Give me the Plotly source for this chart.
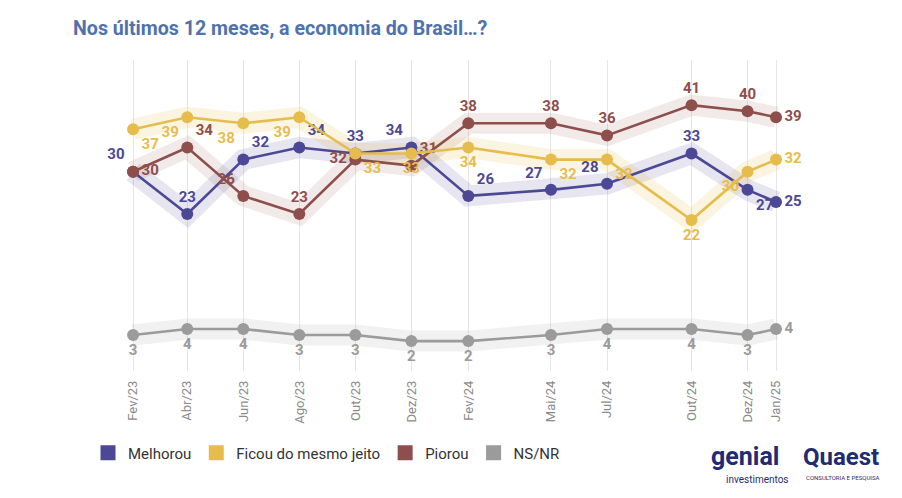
import plotly.graph_objects as go

# ---- data ----
months = ["2023-02-01", "2023-04-01", "2023-06-01", "2023-08-01", "2023-10-01", "2023-12-01",
          "2024-02-01", "2024-05-01", "2024-07-01", "2024-10-01", "2024-12-01", "2025-01-01"]
tick_labels = ["Fev/23", "Abr/23", "Jun/23", "Ago/23", "Out/23", "Dez/23",
               "Fev/24", "Mai/24", "Jul/24", "Out/24", "Dez/24", "Jan/25"]
melhorou = [30, 23, 32, 34, 33, 34, 26, 27, 28, 33, 27, 25]
ficou = [37, 39, 38, 39, 33, 33, 34, 32, 32, 22, 30, 32]
piorou = [30, 34, 26, 23, 32, 31, 38, 38, 36, 41, 40, 39]
nsnr = [3, 4, 4, 3, 3, 2, 2, 3, 4, 4, 3, 4]

# label placement per point
pos_melhorou = ["top left", "top center", "top right", "top right", "top center", "top left",
                "top right", "top left", "top left", "top center", "bottom right", "middle right"]
pos_ficou = ["bottom right", "bottom left", "bottom left", "bottom left", "bottom right", "bottom center",
             "bottom center", "bottom right", "bottom right", "bottom center", "bottom left", "middle right"]
pos_piorou = ["middle right", "top right", "top left", "top center", "middle left", "top right",
              "top center", "top center", "top center", "top center", "top center", "middle right"]
pos_nsnr = ["bottom center"] * 11 + ["middle right"]

BLUE = "#4c4895"
YELLOW = "#e6bd4c"
RED = "#8e4f4c"
GRAY = "#9b9b9b"

series = [
    ("Melhorou", melhorou, BLUE, "rgba(76,72,149,0.14)", pos_melhorou),
    ("Piorou", piorou, RED, "rgba(142,79,76,0.12)", pos_piorou),
    ("Ficou do mesmo jeito", ficou, YELLOW, "rgba(230,189,76,0.17)", pos_ficou),
    ("NS/NR", nsnr, GRAY, "rgba(155,155,155,0.14)", pos_nsnr),
]
legend_order = ["Melhorou", "Ficou do mesmo jeito", "Piorou", "NS/NR"]

fig = go.Figure()

# halos
for name, vals, col, halo, pos in series:
    fig.add_trace(go.Scatter(x=months, y=vals, mode="lines",
                             line=dict(color=halo, width=21),
                             hoverinfo="skip", showlegend=False))

# lines, markers, labels
for name, vals, col, halo, pos in series:
    fig.add_trace(go.Scatter(
        x=months, y=vals, mode="lines+markers+text", name=name,
        line=dict(color=col, width=2.6),
        marker=dict(color=col, size=12),
        text=[str(v) for v in vals], textposition=pos,
        textfont=dict(family="Roboto", size=15, color=col, weight="bold"),
        cliponaxis=False, showlegend=False))

# legend entries (square symbols)
colors = {s[0]: s[2] for s in series}
for name in legend_order:
    fig.add_trace(go.Scatter(x=[None], y=[None], mode="markers", name=name,
                             marker=dict(symbol="square", size=15, color=colors[name])))

# page offset (browser body margin) compensated in margins
L, T, W, H = 92, 52, 710, 311
fig.update_xaxes(
    type="date",
    range=["2022-12-27", "2025-02-07"],
    tickmode="array", tickvals=months, ticktext=tick_labels,
    tickangle=-90, tickfont=dict(family="Roboto", size=13, color="#8a8a8a"),
    ticklabelstandoff=6,
    showgrid=True, gridcolor="#e6e6e6", gridwidth=1,
    showline=False, zeroline=False, ticks="",
)
fig.update_yaxes(range=[-2.94, 48.46], visible=False, showgrid=False, zeroline=False)


def px(x):
    return (x - 8 - L) / W


def py(y):
    return 1 - (y - 8 - T) / H


fig.update_layout(
    width=902, height=498,
    margin=dict(l=L, r=902 - L - W, t=T, b=498 - T - H),
    paper_bgcolor="white", plot_bgcolor="white",
    title=dict(text="<b>Nos últimos 12 meses, a economia do Brasil…?</b>",
               x=(73 - 8) / 902, xanchor="left", y=1 - (28 - 8) / 498, yanchor="middle",
               font=dict(family="Roboto", size=19.6, color="#4f72ad")),
    legend=dict(orientation="h", x=px(88), xanchor="left", y=py(453), yanchor="middle",
                font=dict(family="Roboto", size=15, color="#333333"),
                itemwidth=30, traceorder="normal", bgcolor="rgba(0,0,0,0)"),
    annotations=[
        dict(text="<b>genial</b>", xref="paper", yref="paper", x=px(745), y=py(456),
             xanchor="center", yanchor="middle", showarrow=False,
             font=dict(family="Roboto", size=25, color="#1f2b73")),
        dict(text="investimentos", xref="paper", yref="paper", x=px(757), y=py(479),
             xanchor="center", yanchor="middle", showarrow=False,
             font=dict(family="Roboto", size=10, color="#1f2b73")),
        dict(text="<b>Quaest</b>", xref="paper", yref="paper", x=px(841), y=py(457),
             xanchor="center", yanchor="middle", showarrow=False,
             font=dict(family="Roboto", size=24, color="#1f2b73")),
        dict(text="CONSULTORIA E PESQUISA", xref="paper", yref="paper", x=px(842), y=py(477),
             xanchor="center", yanchor="middle", showarrow=False,
             font=dict(family="Roboto", size=6, color="#1f2b73")),
    ],
)

fig.write_html("out.html")
